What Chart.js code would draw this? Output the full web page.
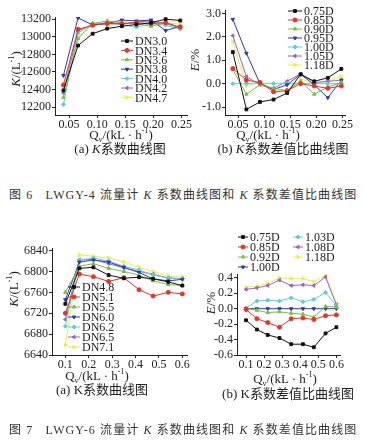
<!DOCTYPE html>
<html>
<head>
<meta charset="utf-8">
<script src="https://cdn.jsdelivr.net/npm/chart.js@4/dist/chart.umd.min.js"></script>
<style>
  html, body { margin: 0; padding: 0; background: #fff; }
  #page { position: relative; width: 365px; height: 443px; overflow: hidden; background: #fff; }
  canvas { position: absolute; }
  .t { position: absolute; transform: translate(-50%, -50%); white-space: nowrap; color: #222;
       font-family: "Liberation Serif", "Times New Roman", "Noto Sans CJK SC", serif; font-size: 13px; line-height: 1; }
  .t sub, .t sup { font-size: 8px; line-height: 0; }
  .rot { transform: translate(-50%, -50%) rotate(-90deg); }
  .cjk { font-family: "Liberation Serif", "Noto Sans CJK SC", serif; }
  .cap { position: absolute; left: 9px; white-space: nowrap; color: #333; font-size: 12px; letter-spacing: 1.1px;
         font-family: "Liberation Serif", "Noto Sans CJK SC", serif; }
</style>
</head>
<body>
<div id="page">
  <canvas id="c1" width="200" height="128" style="left:0;top:0"></canvas>
  <canvas id="c2" width="185" height="128" style="left:180px;top:0"></canvas>
  <canvas id="c3" width="200" height="130" style="left:0;top:238px"></canvas>
  <canvas id="c4" width="185" height="138" style="left:180px;top:230px"></canvas>

  <div class="t rot" style="left:15px;top:69px"><i>K</i>/(L<sup>-1</sup>)</div>
  <div class="t" style="left:121px;top:134px">Q<sub>v</sub>/(kL · h<sup>-1</sup>)</div>
  <div class="t cjk" style="left:120px;top:148px">(a) <i>K</i>系数曲线图</div>

  <div class="t rot" style="left:194px;top:60px"><i>E</i>/%</div>
  <div class="t" style="left:268px;top:134px">Q<sub>v</sub>/(kL · h<sup>-1</sup>)</div>
  <div class="t cjk" style="left:283px;top:148px">(b) <i>K</i>系数差值比曲线图</div>

  <div class="cap" style="top:185px">图 6&nbsp;&nbsp; LWGY-4 流量计 <i>K</i> 系数曲线图和 <i>K</i> 系数差值比曲线图</div>

  <div class="t rot" style="left:13px;top:289px"><i>K</i>/(L<sup>-1</sup>)</div>
  <div class="t" style="left:97px;top:375px">Q<sub>v</sub>/(kL · h<sup>-1</sup>)</div>
  <div class="t cjk" style="left:102px;top:389px">(a) K系数曲线图</div>

  <div class="t rot" style="left:210px;top:303px"><i>E</i>/%</div>
  <div class="t" style="left:285px;top:378px">Q<sub>v</sub>/(kL · h<sup>-1</sup>)</div>
  <div class="t cjk" style="left:288px;top:393px">(b) K系数差值比曲线图</div>

  <div class="cap" style="top:420px">图 7&nbsp;&nbsp; LWGY-6 流量计 <i>K</i> 系数曲线图和 <i>K</i> 系数差值比曲线图</div>
</div>

<script>
// flow rates (kL/h)
const qSmall = [0.040, 0.066, 0.092, 0.118, 0.144, 0.170, 0.196, 0.222, 0.248];
const qLarge = [0.10, 0.16, 0.22, 0.285, 0.35, 0.415, 0.475, 0.54, 0.60];

// Fig 6a: K factor, LWGY-4
const k6Labels = ['DN3.0', 'DN3.4', 'DN3.6', 'DN3.8', 'DN4.0', 'DN4.2', 'DN4.7'];
const k6_30 = [12390, 12900, 13035, 13093, 13120, 13140, 13160, 13200, 13185];
const k6_34 = [12450, 13085, 13130, 13150, 13150, 13160, 13150, 13160, 13110];
const k6_36 = [12310, 12980, 13150, 13180, 13160, 13150, 13120, 13160, 13100];
const k6_38 = [12560, 13215, 13135, 13150, 13190, 13180, 13190, 13070, 13120];
const k6_40 = [12230, 13040, 13150, 13150, 13140, 13110, 13150, 13130, 13090];
const k6_42 = [12360, 13065, 13140, 13160, 13140, 13170, 13180, 13150, 13100];
const k6_47 = [12470, 12990, 13160, 13140, 13150, 13150, 13150, 13140, 13160];

// Fig 6b: K difference ratio (%)
const e6Labels = ['0.75D', '0.85D', '0.90D', '0.95D', '1.00D', '1.05D', '1.18D'];
const e6_075 = [1.35, -1.10, -0.78, -0.68, -0.40, 0.40, 0.10, 0.25, 0.63];
const e6_085 = [0.65, 0.15, 0.05, -0.35, -0.30, 0.00, -0.10, -0.20, -0.10];
const e6_090 = [0.60, -0.45, -0.05, -0.20, -0.30, 0.10, -0.45, -0.15, 0.05];
const e6_095 = [2.75, 1.30, 0.00, -0.25, -0.05, 0.40, -0.05, -0.60, 0.15];
const e6_100 = [0, 0, 0, 0, 0, 0, 0, 0, 0];
const e6_105 = [2.05, 0.30, -0.05, -0.20, 0.10, 0.42, 0.05, 0.10, 0.15];
const e6_118 = [1.80, -0.10, 0.10, -0.30, -0.35, 0.20, 0.00, 0.10, 0.30];

// Fig 7a: K factor, LWGY-6
const k7Labels = ['DN4.8', 'DN5.1', 'DN5.5', 'DN6.0', 'DN6.2', 'DN6.5', 'DN7.1'];
const k7_48 = [6738, 6806, 6808, 6793, 6787, 6789, 6786, 6780, 6773];
const k7_51 = [6720, 6795, 6790, 6781, 6788, 6765, 6753, 6760, 6757];
const k7_55 = [6760, 6810, 6815, 6806, 6800, 6793, 6782, 6775, 6773];
const k7_60 = [6746, 6818, 6822, 6818, 6808, 6798, 6786, 6782, 6785];
const k7_62 = [6695, 6822, 6826, 6820, 6810, 6803, 6793, 6788, 6786];
const k7_65 = [6708, 6822, 6823, 6815, 6807, 6800, 6795, 6787, 6786];
const k7_71 = [6659, 6832, 6829, 6826, 6818, 6808, 6800, 6791, 6790];

// Fig 7b: K difference ratio (%)
const e7Labels = ['0.75D', '0.85D', '0.92D', '1.00D', '1.03D', '1.08D', '1.18D'];
const e7_075 = [-0.15, -0.27, -0.34, -0.38, -0.46, -0.46, -0.50, -0.32, -0.24];
const e7_085 = [-0.01, -0.13, -0.18, -0.24, -0.13, -0.12, -0.14, -0.09, -0.08];
const e7_092 = [0.00, -0.02, -0.05, -0.04, -0.06, -0.07, -0.11, 0.03, 0.02];
const e7_100 = [0, 0, 0, 0, 0, 0, 0, 0, 0];
const e7_103 = [0.01, 0.10, 0.11, 0.10, 0.14, 0.09, 0.12, 0.21, 0.04];
const e7_108 = [0.25, 0.27, 0.30, 0.37, 0.30, 0.31, 0.30, 0.41, 0.05];
const e7_118 = [0.28, 0.29, 0.33, 0.40, 0.39, 0.39, 0.35, 0.43, 0.07];

// Origin-like colours and markers, one per series slot
const colors = ['#111111', '#e8322b', '#78c040', '#2a3cb0', '#5ccfd6', '#9a62c8', '#f0ea4c'];
const markers = [['rect', 0], ['circle', 0], ['triangle', 0], ['triangle', 180], ['rectRot', 0], ['triangle', 270], ['triangle', 90]];

const FONT = '"Liberation Serif", "Times New Roman", serif';

function makeSets(labels, series, xs, cols, marks) {
    return series.map((ys, i) => ({
        label: labels[i],
        data: xs.map((x, j) => ({ x: x, y: ys[j] })),
        borderColor: cols[i],
        backgroundColor: cols[i],
        pointBackgroundColor: cols[i],
        pointBorderColor: cols[i],
        borderWidth: 1,
        pointRadius: 2,
        pointBorderWidth: 1,
        pointStyle: marks[i][0],
        pointRotation: marks[i][1],
        tension: 0
    }));
}

// hand drawn legend so the tight Origin spacing can be kept
const miniLegend = {
    id: 'miniLegend',
    afterDraw(chart, args, opts) {
        const ctx = chart.ctx;
        ctx.save();
        ctx.font = opts.font;
        ctx.textBaseline = 'middle';
        chart.data.datasets.forEach((ds, i) => {
            const col = Math.floor(i / opts.rows);
            const row = i % opts.rows;
            const x = opts.x + col * (opts.colW || 0);
            const y = opts.y + row * opts.dy;
            ctx.strokeStyle = ds.borderColor;
            ctx.fillStyle = ds.borderColor;
            ctx.lineWidth = 1;
            ctx.beginPath();
            ctx.moveTo(x, y);
            ctx.lineTo(x + opts.sample, y);
            ctx.stroke();
            Chart.helpers.drawPoint(ctx, { pointStyle: ds.pointStyle, rotation: ds.pointRotation, radius: 2, borderWidth: 1 }, x + opts.sample / 2, y);
            ctx.fillStyle = '#222';
            ctx.fillText(ds.label, x + opts.sample + 2, y + 1);
        });
        ctx.restore();
    }
};

function axisOpts(min, max, ticks, fmt, size, pos) {
    return {
        type: 'linear',
        position: pos,
        min: min,
        max: max,
        afterBuildTicks: (s) => { s.ticks = ticks.map(v => ({ value: v })); },
        afterFit: (s) => { if (pos === 'left') s.width = size; else s.height = size; },
        border: { display: true, color: '#222', width: 1 },
        grid: { drawOnChartArea: false, drawTicks: true, tickLength: 3, color: '#222' },
        ticks: {
            color: '#222',
            padding: pos === 'left' ? 1 : 0,
            maxRotation: 0,
            autoSkip: false,
            font: { family: FONT, size: 12 },
            callback: fmt
        }
    };
}

function makeChart(id, datasets, xAxis, yAxis, padding, legend) {
    return new Chart(document.getElementById(id), {
        type: 'line',
        data: { datasets: datasets },
        options: {
            responsive: false,
            animation: false,
            layout: { padding: padding },
            plugins: { legend: { display: false }, tooltip: { enabled: false }, miniLegend: legend },
            scales: { x: xAxis, y: yAxis }
        },
        plugins: [miniLegend]
    });
}

const f2 = v => v.toFixed(2);
const f1 = v => v.toFixed(1);
const f0 = v => String(v);
const legFont = '12px ' + FONT;

// Fig 6a
makeChart('c1',
    makeSets(k6Labels, [k6_30, k6_34, k6_36, k6_38, k6_40, k6_42, k6_47], qSmall, colors, markers),
    axisOpts(0.025, 0.26, [0.05, 0.10, 0.15, 0.20, 0.25], f2, 13, 'bottom'),
    axisOpts(12110, 13225, [12200, 12400, 12600, 12800, 13000, 13200], f0, 55, 'left'),
    { left: 0, top: 17, right: 13, bottom: 0 },
    { x: 121, y: 41, dy: 9.4, rows: 7, sample: 12, font: legFont });

// Fig 6b
makeChart('c2',
    makeSets(e6Labels, [e6_075, e6_085, e6_090, e6_095, e6_100, e6_105, e6_118], qSmall, colors, markers),
    axisOpts(0.025, 0.255, [0.05, 0.10, 0.15, 0.20, 0.25], f2, 13, 'bottom'),
    axisOpts(-1.34, 3.15, [-1, 0, 1, 2, 3], f1, 45, 'left'),
    { left: 0, top: 10, right: 20, bottom: 0 },
    { x: 108, y: 11, dy: 9, rows: 7, sample: 14, font: legFont });

// Fig 7a
makeChart('c3',
    makeSets(k7Labels, [k7_48, k7_51, k7_55, k7_60, k7_62, k7_65, k7_71], qLarge, colors, markers),
    axisOpts(0.043, 0.62, [0.1, 0.2, 0.3, 0.4, 0.5, 0.6], f1, 13, 'bottom'),
    axisOpts(6640, 6845, [6640, 6680, 6720, 6760, 6800, 6840], f0, 52, 'left'),
    { left: 0, top: 10, right: 13, bottom: 0 },
    { x: 68, y: 49, dy: 10, rows: 7, sample: 12, font: legFont });

// Fig 7b
makeChart('c4',
    makeSets(e7Labels, [e7_075, e7_085, e7_092, e7_100, e7_103, e7_108, e7_118], qLarge, colors, markers),
    axisOpts(0.05, 0.62, [0.1, 0.2, 0.3, 0.4, 0.5, 0.6], f1, 13, 'bottom'),
    axisOpts(-0.6, 0.45, [-0.6, -0.4, -0.2, 0.0, 0.2, 0.4], f1, 57, 'left'),
    { left: 0, top: 44, right: 25, bottom: 0 },
    { x: 58, y: 7, dy: 10, rows: 4, colW: 55, sample: 10, font: legFont });
</script>
</body>
</html>
